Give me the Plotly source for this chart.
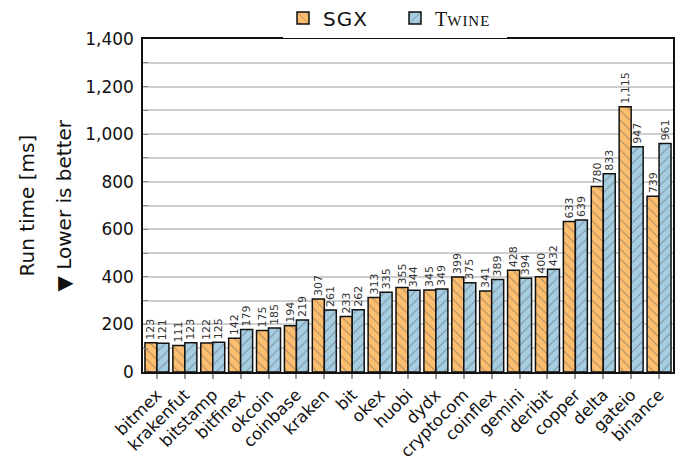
import plotly.graph_objects as go

categories = ["bitmex", "krakenfut", "bitstamp", "bitfinex", "okcoin", "coinbase", "kraken", "bit",
              "okex", "huobi", "dydx", "cryptocom", "coinflex", "gemini", "deribit", "copper",
              "delta", "gateio", "binance"]
sgx = [123, 111, 122, 142, 175, 194, 307, 233, 313, 355, 345, 399, 341, 428, 400, 633, 780, 1115, 739]
twine = [121, 123, 125, 179, 185, 219, 261, 262, 335, 344, 349, 375, 389, 394, 432, 639, 833, 947, 961]
y_ticks = [0, 200, 400, 600, 800, 1000, 1200, 1400]

font = "DejaVu Sans"
# page body has an 8px margin, so the figure is 8px smaller and margins shifted
L, T, R, B = 135, 31, 13, 90
W, H = 678, 454
pw, ph = W - L - R, H - T - B

fig = go.Figure()
fig.add_trace(go.Bar(
    x=categories, y=sgx,
    name="<span style='letter-spacing:1px'>SGX</span>",
    marker=dict(color="#FDBF6F", line=dict(color="#111", width=1.5),
                pattern=dict(shape="\\", fgcolor="#555", size=7, solidity=0.15)),
    texttemplate="%{y:,}", textposition="outside", textangle=-90, constraintext="none",
    textfont=dict(family=font, size=11, color="#333"), cliponaxis=False,
))
fig.add_trace(go.Bar(
    x=categories, y=twine,
    name="<span style='font-family:Liberation Serif'>T<span style='font-size:15px;letter-spacing:1px'>WINE</span></span>",
    marker=dict(color="#A6CEE3", line=dict(color="#111", width=1.5),
                pattern=dict(shape="/", fgcolor="#555", size=7, solidity=0.15)),
    texttemplate="%{y:,}", textposition="outside", textangle=-90, constraintext="none",
    textfont=dict(family=font, size=11, color="#333"), cliponaxis=False,
))

def px_x(p):
    return (p - 8 - L) / pw

fig.update_layout(
    width=W, height=H,
    margin=dict(l=L, r=R, t=T, b=B, autoexpand=False),
    plot_bgcolor="white", paper_bgcolor="white",
    font=dict(family=font, size=17, color="#111"),
    barmode="group", bargap=0.14, bargroupgap=0,
    showlegend=True,
    legend=dict(orientation="h", x=px_x(283), xanchor="left", y=1 + (T - 10) / ph, yanchor="middle",
                font=dict(size=20), itemwidth=30, entrywidth=67, traceorder="normal"),
    annotations=[
        dict(text="Run time [ms]", textangle=-90, xref="paper", yref="paper",
             x=px_x(26), y=0.5, xanchor="center", yanchor="middle", showarrow=False,
             font=dict(size=20)),
        dict(text="▼ Lower is better", textangle=-90, xref="paper", yref="paper",
             x=px_x(63), y=0.5, xanchor="center", yanchor="middle", showarrow=False,
             font=dict(size=20)),
    ],
)
fig.update_xaxes(
    showline=True, linecolor="#111", linewidth=1.5, mirror=True, automargin=False,
    ticks="outside", tickcolor="#999", ticklen=5, tickwidth=1.5,
    tickangle=-45, tickfont=dict(size=16.5), showgrid=False,
)
fig.update_yaxes(
    range=[0, 1400], tickvals=y_ticks, tickformat=",", automargin=False,
    showline=True, linecolor="#111", linewidth=1.5, mirror=True,
    showgrid=True, gridcolor="#CFCFCF", gridwidth=1.5,
    ticks="inside", tickcolor="#888", ticklen=5, ticklabelstandoff=4,
    minor=dict(dtick=100, showgrid=True, gridcolor="#CFCFCF", gridwidth=1.5,
               ticks="inside", ticklen=5, tickcolor="#888"),
    tickfont=dict(size=17), zeroline=False,
)

fig.write_html("out.html")
